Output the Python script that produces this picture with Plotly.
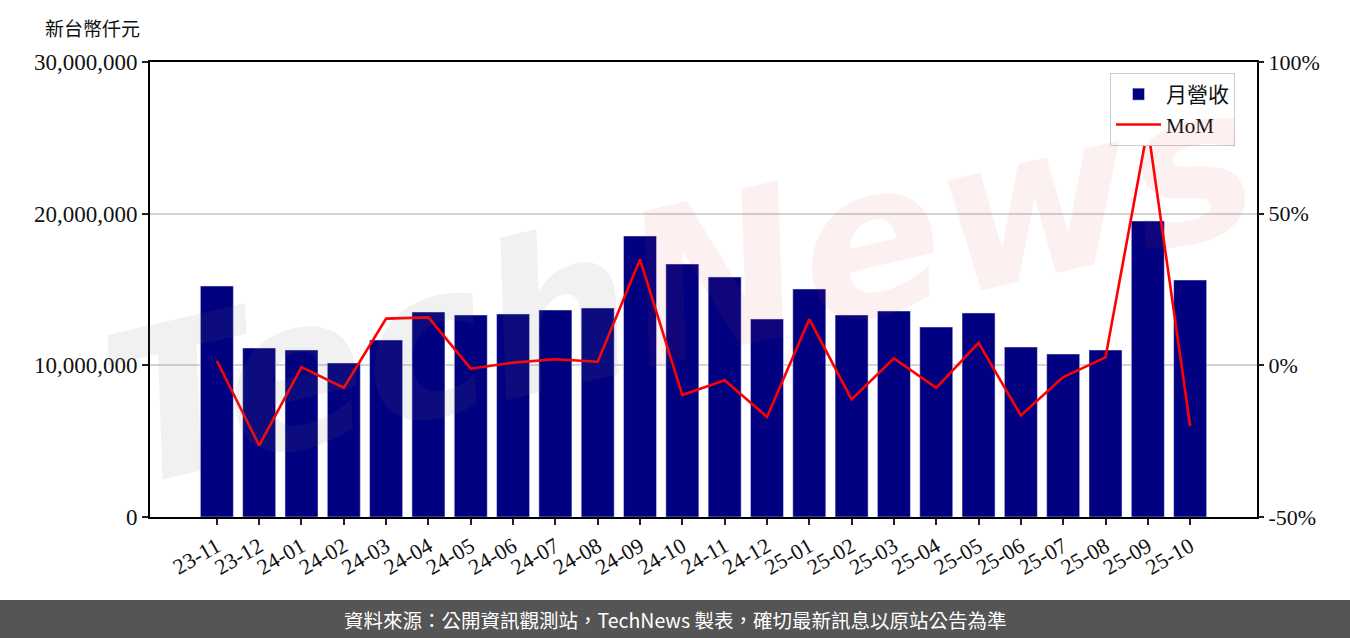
import plotly.graph_objects as go

months = ["23-11", "23-12", "24-01", "24-02", "24-03", "24-04", "24-05", "24-06",
          "24-07", "24-08", "24-09", "24-10", "24-11", "24-12", "25-01", "25-02",
          "25-03", "25-04", "25-05", "25-06", "25-07", "25-08", "25-09", "25-10"]
revenue = [15231000, 11143000, 11011000, 10154000, 11670000, 13516000, 13319000, 13385000,
           13648000, 13780000, 18527000, 16681000, 15824000, 13055000, 15033000, 13319000,
           13582000, 12527000, 13451000, 11209000, 10747000, 11011000, 19516000, 15626000]
mom = [1.5, -26.4, -0.6, -7.4, 15.4, 15.8, -1.1, 0.9,
       2.0, 1.2, 34.9, -9.8, -4.9, -17.0, 15.2, -11.2,
       2.3, -7.4, 7.4, -16.5, -3.9, 2.6, 78.4, -20.0]
left_ticks = [0, 10000000, 20000000, 30000000]
right_ticks = [-50, 0, 50, 100]
right_labels = ["-50%", "0%", "50%", "100%"]

W, H = 1350, 638
L, R, T, B = 150, 93, 62, 121
pw, ph = W - L - R, H - T - B

def px_x(p):
    return (p - L) / pw

def px_y(p):
    return 1 - (p - T) / ph

serif = "Liberation Serif, Noto Sans CJK TC, serif"

fig = go.Figure()
fig.add_trace(go.Bar(x=months, y=revenue, name="月營收", marker_color="#000080",
                     width=0.78, yaxis="y"))
fig.add_trace(go.Scatter(x=months, y=mom, name="MoM", mode="lines",
                         line=dict(color="#ff0000", width=2.6), yaxis="y2"))

fig.update_layout(
    width=W, height=H,
    margin=dict(l=L, r=R, t=T, b=B, pad=0),
    paper_bgcolor="white", plot_bgcolor="white",
    font=dict(family=serif, size=22, color="#111"),
    showlegend=True,
    legend=dict(x=px_x(1110), y=px_y(73), xanchor="left", yanchor="top",
                bgcolor="white", bordercolor="#cccccc", borderwidth=1,
                font=dict(family=serif, size=21, color="#111"),
                itemwidth=45, tracegroupgap=2),
    xaxis=dict(type="category", range=[-1.58, 24.58], tickangle=-30,
               showline=True, linecolor="black", linewidth=2, mirror=True,
               ticks="outside", ticklen=6, tickwidth=2, tickcolor="#222",
               showgrid=False, tickfont=dict(family=serif, size=22)),
    yaxis=dict(range=[0, 30000000], tickvals=left_ticks,
               tickformat=",d", showline=True, linecolor="black", linewidth=2,
               mirror=True, ticks="outside", ticklen=6, tickwidth=2, tickcolor="#222",
               showgrid=True, gridcolor="#d4d4d4", gridwidth=1.5, zeroline=False,
               tickfont=dict(family=serif, size=23)),
    yaxis2=dict(range=[-50, 100], tickmode="array", tickvals=right_ticks, ticktext=right_labels,
                overlaying="y", side="right", showgrid=False, zeroline=False,
                showline=False, ticks="outside", ticklen=6, tickwidth=2, tickcolor="#222",
                tickfont=dict(family=serif, size=22)),
)

# footer band
fig.add_shape(type="rect", xref="paper", yref="paper",
              x0=px_x(0), x1=px_x(W), y0=px_y(H), y1=px_y(600),
              fillcolor="#555555", line=dict(width=0), layer="above")
fig.add_annotation(xref="paper", yref="paper", x=px_x(675), y=px_y(619),
                   xanchor="center", yanchor="middle", showarrow=False,
                   text="資料來源：公開資訊觀測站，TechNews 製表，確切最新訊息以原站公告為準",
                   font=dict(family="Noto Sans CJK TC, sans-serif", size=19.5, color="white"))

# unit label
fig.add_annotation(xref="paper", yref="paper", x=px_x(43), y=px_y(27),
                   xanchor="left", yanchor="middle", showarrow=False,
                   text="新台幣仟元",
                   font=dict(family="Noto Sans CJK TC, sans-serif", size=19, color="#111"))

# watermark
fig.add_annotation(xref="paper", yref="paper", x=px_x(680), y=px_y(285),
                   xanchor="center", yanchor="middle", showarrow=False, textangle=-13,
                   text="<b><span style='color:rgba(120,120,120,0.10)'>Tech</span>"
                        "<span style='color:rgba(215,60,60,0.08)'>News</span></b>",
                   font=dict(family="DejaVu Sans, sans-serif", size=210, style="italic"))

fig.write_html("out.html", config={"displayModeBar": False},
               post_script="document.body.style.margin='0';document.body.style.padding='0';")
